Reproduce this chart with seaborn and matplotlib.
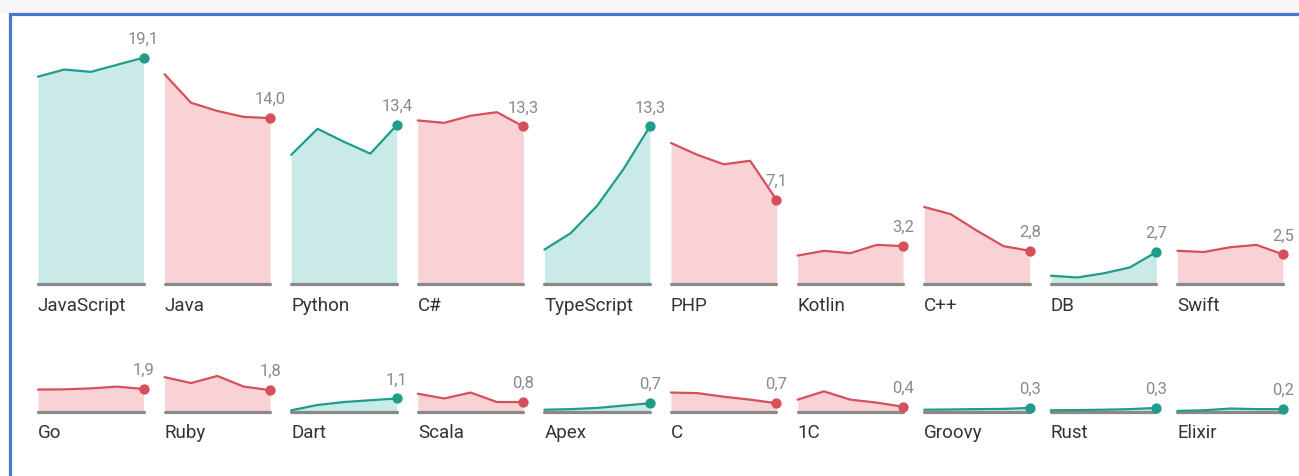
import numpy as np
import pandas as pd
import matplotlib
matplotlib.use("Agg")
import matplotlib.pyplot as plt
from matplotlib.patches import Rectangle
import seaborn as sns

# ---------------- data ----------------
top_langs = ["JavaScript", "Java", "Python", "C#", "TypeScript", "PHP", "Kotlin", "C++", "DB", "Swift"]
bottom_langs = ["Go", "Ruby", "Dart", "Scala", "Apex", "C", "1C", "Groovy", "Rust", "Elixir"]

javascript = [17.5, 18.1, 17.9, 18.5, 19.1]
java = [17.7, 15.3, 14.6, 14.1, 14.0]
python = [10.9, 13.1, 12.0, 11.0, 13.4]
csharp = [13.8, 13.6, 14.2, 14.5, 13.3]
typescript = [2.9, 4.3, 6.6, 9.7, 13.3]
php = [11.9, 10.9, 10.1, 10.4, 7.1]
kotlin = [2.4, 2.8, 2.6, 3.3, 3.2]
cpp = [6.5, 5.9, 4.5, 3.2, 2.8]
db = [0.7, 0.55, 0.9, 1.4, 2.7]
swift = [2.8, 2.7, 3.1, 3.3, 2.5]
go = [1.85, 1.87, 1.95, 2.1, 1.9]
ruby = [2.9, 2.4, 3.0, 2.1, 1.8]
dart = [0.1, 0.55, 0.8, 0.95, 1.1]
scala = [1.5, 1.1, 1.6, 0.8, 0.8]
apex = [0.15, 0.2, 0.3, 0.5, 0.7]
c_lang = [1.6, 1.55, 1.25, 1.0, 0.7]
onec = [1.0, 1.7, 1.0, 0.75, 0.4]
groovy = [0.15, 0.17, 0.2, 0.22, 0.3]
rust = [0.1, 0.12, 0.15, 0.2, 0.3]
elixir = [0.05, 0.1, 0.25, 0.2, 0.2]

top_values = [javascript, java, python, csharp, typescript, php, kotlin, cpp, db, swift]
bottom_values = [go, ruby, dart, scala, apex, c_lang, onec, groovy, rust, elixir]

top_trend = ["up", "down", "up", "down", "up", "down", "down", "down", "up", "down"]
bottom_trend = ["down", "down", "up", "down", "up", "down", "down", "up", "up", "up"]

periods = [0, 1, 2, 3, 4]

# ---------------- style ----------------
sns.set_theme(style="white")
plt.rcParams["font.family"] = ["Roboto", "DejaVu Sans"]

W, H = 1299, 476
fig = plt.figure(figsize=(W / 100, H / 100), dpi=100)
fig.patch.set_facecolor("white")

COL = {"up": ("#1f9c8a", "#c9eae7"), "down": ("#d6505c", "#f9d2d6")}
BASE_COL = "#8a8888"
K = 11.85          # pixels per unit
LEFT0 = 38
PITCH = 126.6
PW = 105.5

rows = [
    (top_langs, top_values, top_trend, 284.0, 250.0),
    (bottom_langs, bottom_values, bottom_trend, 411.5, 50.0),
]

for langs, values, trends, base, hpx in rows:
    for i, (lang, vals, tr) in enumerate(zip(langs, values, trends)):
        left = LEFT0 + i * PITCH
        ax = fig.add_axes([left / W, (H - base) / H, PW / W, hpx / H])
        line_c, fill_c = COL[tr]
        df = pd.DataFrame({"period": periods, "value": vals})
        ax.fill_between(df["period"], 0, df["value"], color=fill_c, lw=0, zorder=1)
        sns.lineplot(data=df, x="period", y="value", ax=ax, color=line_c,
                     linewidth=1.6, zorder=3, clip_on=False)
        ax.axhline(0, color=BASE_COL, lw=2.3, zorder=2, clip_on=False)
        last = df.iloc[-1]
        ax.scatter([last["period"]], [last["value"]], s=55, color=line_c,
                   zorder=4, clip_on=False, linewidths=0)
        ax.set_xlim(0, 4)
        ax.set_ylim(0, hpx / K)
        ax.axis("off")
        lbl = f"{last['value']:.1f}".replace(".", ",")
        ax.annotate(lbl, xy=(last["period"], last["value"]), xytext=(0, 10),
                    textcoords="offset points", ha="center", va="baseline",
                    fontsize=12, color="#8a8a8a", annotation_clip=False)
        ax.annotate(lang, xy=(0, 0), xytext=(0, -15.5), textcoords="offset points",
                    ha="left", va="center", fontsize=13.5, color="#333333",
                    annotation_clip=False)

# top grey band and blue frame (right and bottom edges lie beyond the picture)
fig.add_artist(Rectangle((0, (H - 13) / H), 1, 13 / H, transform=fig.transFigure,
                         facecolor="#f6f6f6", edgecolor="none", zorder=0))
fig.add_artist(Rectangle((9.5 / W, (H - 480) / H), (1304 - 9.5) / W, (480 - 14) / H,
                         transform=fig.transFigure, facecolor="none",
                         edgecolor="#4a76cc", linewidth=2.3, zorder=10))

fig.savefig("out.png", dpi=100)
